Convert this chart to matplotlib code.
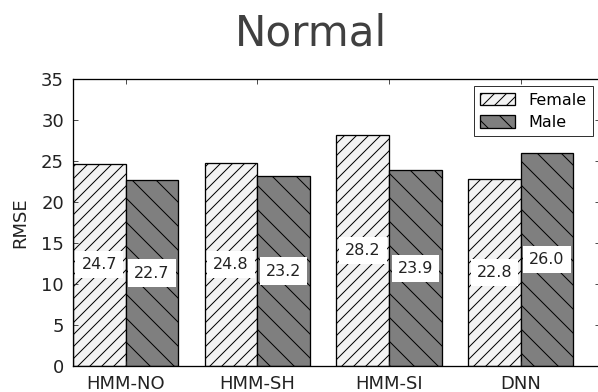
import numpy as np
import matplotlib
matplotlib.use("Agg")
import matplotlib.pyplot as plt

categories = ["HMM-NO", "HMM-SH", "HMM-SI", "DNN"]
female = [24.7, 24.8, 28.2, 22.8]
male = [22.7, 23.2, 23.9, 26.0]

# dpi 72 -> 1 pt = 1 px, keeps hatch spacing close to the original
DPI = 72
plt.rcParams["font.family"] = ["DejaVu Sans"]
plt.rcParams["hatch.linewidth"] = 1.0

fig = plt.figure(figsize=(598 / DPI, 392 / DPI), dpi=DPI)
ax = fig.add_axes([0.122, 0.066, 0.881, 0.732])

x = np.arange(len(categories))
w = 0.4
ax.bar(x, female, w, align="edge", color="#f3f3f3", edgecolor="black",
       hatch="//", lw=1.3, label="Female")
ax.bar(x + w, male, w, align="edge", color="#7f7f7f", edgecolor="black",
       hatch="\\", lw=1.3, label="Male")

for xi, v in zip(x + w / 2, female):
    ax.text(xi, v / 2, f"{v:.1f}", ha="center", va="center", fontsize=16, color="#222222",
            bbox=dict(facecolor="white", edgecolor="none", pad=6))
for xi, v in zip(x + 1.5 * w, male):
    ax.text(xi, v / 2, f"{v:.1f}", ha="center", va="center", fontsize=16, color="#222222",
            bbox=dict(facecolor="white", edgecolor="none", pad=6))

ax.set_xlim(0, 4)
ax.set_ylim(0, 35)
ax.set_yticks(range(0, 36, 5))
ax.set_xticks(x + w)
ax.set_xticklabels(categories, fontsize=18)
ax.tick_params(axis="y", labelsize=18, pad=9)
ax.tick_params(axis="x", pad=9)
ax.tick_params(direction="in", top=True, right=True, length=5, colors="#222222")
ax.set_ylabel("RMSE", fontsize=18, labelpad=12, color="#222222")
for s in ax.spines.values():
    s.set_linewidth(1.3)

ax.legend(loc="upper right", fontsize=16, fancybox=False, edgecolor="black",
          borderaxespad=0.45, handlelength=2.2, handleheight=0.8, labelspacing=0.45)

fig.text(0.52, 0.915, "Normal", ha="center", va="center", fontsize=42, color="#404040")

fig.savefig("out.png", dpi=DPI)
